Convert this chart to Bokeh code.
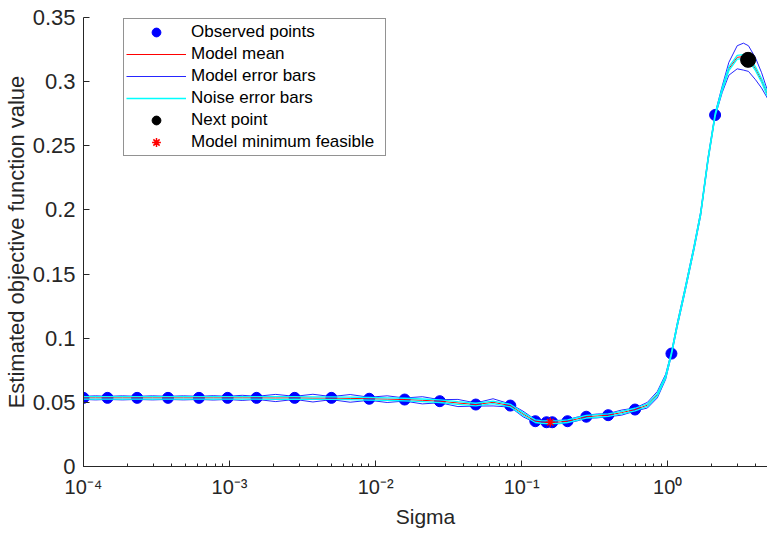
from bokeh.plotting import figure
from bokeh.models import (ColumnDataSource, Legend, LegendItem, FixedTicker,
                          LogTicker, Range1d)
from bokeh.embed import file_html
from bokeh.resources import INLINE

# ---------------- data ----------------
obs_sigma = [1.00e-4, 1.46e-4, 2.33e-4, 3.79e-4, 6.17e-4, 9.70e-4, 1.53e-3,
             2.79e-3, 4.98e-3, 9.04e-3, 1.58e-2, 2.75e-2, 4.85e-2, 8.36e-2,
             0.124, 0.148, 0.162, 0.206, 0.277, 0.391, 0.597, 1.06, 2.11]
obs_value = [0.0535, 0.0535, 0.0535, 0.0535, 0.0535, 0.0535, 0.0535,
             0.0535, 0.0535, 0.0528, 0.0522, 0.0509, 0.0483, 0.0475,
             0.0353, 0.0345, 0.0345, 0.0353, 0.0388, 0.0400, 0.0444, 0.0880, 0.2740]

next_sigma = [3.55]
next_value = [0.317]

min_sigma = [0.157]
min_value = [0.0345]

curve_sigma = [1.00e-4, 1.21e-4, 1.46e-4, 1.85e-4, 2.33e-4, 2.97e-4, 3.79e-4,
               4.83e-4, 6.17e-4, 7.73e-4, 9.70e-4, 1.22e-3, 1.53e-3, 2.07e-3,
               2.79e-3, 3.72e-3, 4.98e-3, 6.70e-3, 9.04e-3, 1.20e-2, 1.58e-2,
               2.09e-2, 2.75e-2, 3.66e-2, 4.85e-2, 6.37e-2, 8.36e-2, 0.102,
               0.124, 0.136, 0.148, 0.162, 0.183, 0.206, 0.239, 0.277, 0.329,
               0.391, 0.483, 0.597, 0.726, 0.849, 0.968, 1.06, 1.16, 1.31,
               1.51, 1.68, 1.89, 2.11, 2.36, 2.62, 2.99, 3.30, 3.57, 3.99,
               4.39, 4.82]
curve_mean = [0.0535, 0.0535, 0.0535, 0.0535, 0.0535, 0.0535, 0.0535,
              0.0535, 0.0535, 0.0535, 0.0535, 0.0535, 0.0535, 0.0534,
              0.0535, 0.0533, 0.0533, 0.0531, 0.0528, 0.0525, 0.0522,
              0.0516, 0.0509, 0.0495, 0.0483, 0.0500, 0.0475, 0.0410,
              0.0353, 0.0347, 0.0345, 0.0345, 0.0347, 0.0353, 0.0370, 0.0388, 0.0394,
              0.0400, 0.0420, 0.0444, 0.0478, 0.0560, 0.0700, 0.0880, 0.110, 0.137,
              0.170, 0.197, 0.240, 0.274, 0.294, 0.310, 0.319, 0.3195, 0.318, 0.310,
              0.301, 0.290]
model_halfwidth = [0.0012, 0.0016, 0.0012, 0.0016, 0.0012, 0.0016, 0.0012,
                   0.0016, 0.0012, 0.0017, 0.0012, 0.0020, 0.0012, 0.0028,
                   0.0012, 0.0030, 0.0012, 0.0030, 0.0012, 0.0026, 0.0012,
                   0.0028, 0.0012, 0.0028, 0.0012, 0.0028, 0.0012, 0.0022,
                   0.0012, 0.0014, 0.0012, 0.0012, 0.0013, 0.0012, 0.0015, 0.0012, 0.0015,
                   0.0012, 0.0020, 0.0012, 0.0022, 0.0025, 0.0020, 0.0012, 0.0015, 0.0015,
                   0.0015, 0.0015, 0.0014, 0.0012, 0.0025, 0.0050, 0.0090, 0.0105, 0.0100, 0.0085,
                   0.0060, 0.0030]
noise_halfwidth = [0.0010] * 50 + [0.0012, 0.0015, 0.0015, 0.0015, 0.0015, 0.0015, 0.0015, 0.0015]

y_ticks = [0, 0.05, 0.1, 0.15, 0.2, 0.25, 0.3, 0.35]
y_tick_labels = ["0", "0.05", "0.1", "0.15", "0.2", "0.25", "0.3", "0.35"]
x_ticks = [1e-4, 1e-3, 1e-2, 1e-1, 1.0]
x_tick_labels = ["10\u207b\u2074", "10\u207b\u00b3", "10\u207b\u00b2", "10\u207b\u00b9", "10\u2070"]

x_label = "Sigma"
y_label = "Estimated objective function value"
legend_labels = ["Observed points", "Model mean", "Model error bars",
                 "Noise error bars", "Next point", "Model minimum feasible"]

# ---------------- figure ----------------
FONT = "Liberation Sans"
AX = "#262626"

p = figure(width=767, height=534, x_axis_type="log",
           x_range=Range1d(1e-4, 4.82), y_range=Range1d(0, 0.35),
           output_backend="svg", toolbar_location=None,
           min_border_left=81, min_border_right=0, min_border_top=17,
           min_border_bottom=68)
p.outline_line_color = None
p.xgrid.visible = False
p.ygrid.visible = False
p.background_fill_color = "white"

upper_model = [m + h for m, h in zip(curve_mean, model_halfwidth)]
lower_model = [m - h for m, h in zip(curve_mean, model_halfwidth)]
upper_noise = [m + h for m, h in zip(curve_mean, noise_halfwidth)]
lower_noise = [m - h for m, h in zip(curve_mean, noise_halfwidth)]

src = ColumnDataSource(dict(x=curve_sigma, mean=curve_mean, um=upper_model,
                            lm=lower_model, un=upper_noise, ln=lower_noise))

r_obs = p.scatter(obs_sigma, obs_value, marker="circle", size=11,
                  fill_color="#0000FF", line_color="#0000FF")
r_um = p.line("x", "um", source=src, line_color="#0000FF", line_width=1.0, line_alpha=0.85)
r_lm = p.line("x", "lm", source=src, line_color="#0000FF", line_width=1.0, line_alpha=0.85)
r_mean = p.line("x", "mean", source=src, line_color="#FF0000", line_width=1.0)
r_un = p.line("x", "un", source=src, line_color="#00FFFF", line_width=1.3)
r_ln = p.line("x", "ln", source=src, line_color="#00FFFF", line_width=1.3)
r_next = p.scatter(next_sigma, next_value, marker="circle", size=15,
                   fill_color="black", line_color="black")
r_min = p.scatter(min_sigma, min_value, marker="asterisk", size=9,
                  line_color="#FF0000", line_width=1.5)

# axes
p.xaxis.ticker = LogTicker(num_minor_ticks=10)
p.xaxis.major_label_overrides = {t: s for t, s in zip(x_ticks, x_tick_labels)}
p.yaxis.ticker = FixedTicker(ticks=y_ticks)
p.yaxis.major_label_overrides = {t: s for t, s in zip(y_ticks, y_tick_labels)}
for ax in (p.xaxis[0], p.yaxis[0]):
    ax.axis_line_color = AX
    ax.major_tick_line_color = AX
    ax.minor_tick_line_color = AX
    ax.major_tick_in = 6
    ax.major_tick_out = 0
    ax.minor_tick_in = 3
    ax.minor_tick_out = 0
    ax.major_label_text_font = FONT
    ax.major_label_text_color = AX
    ax.axis_label_text_font = FONT
    ax.axis_label_text_font_style = "normal"
    ax.axis_label_text_color = AX
p.xaxis.major_label_text_font_size = "20px"
p.yaxis.major_label_text_font_size = "22px"
p.xaxis.axis_label_text_font_size = "21px"
p.yaxis.axis_label_text_font_size = "22px"
p.yaxis.minor_tick_line_color = None
p.xaxis.axis_label = x_label
p.yaxis.axis_label = y_label
p.xaxis.major_label_standoff = 9
p.yaxis.major_label_standoff = 8
p.xaxis.axis_label_standoff = 4
p.yaxis.axis_label_standoff = 1

legend = Legend(items=[
    LegendItem(label=legend_labels[0], renderers=[r_obs]),
    LegendItem(label=legend_labels[1], renderers=[r_mean]),
    LegendItem(label=legend_labels[2], renderers=[r_um]),
    LegendItem(label=legend_labels[3], renderers=[r_un]),
    LegendItem(label=legend_labels[4], renderers=[r_next]),
    LegendItem(label=legend_labels[5], renderers=[r_min]),
], location=(40, 310))
legend.label_text_font = FONT
legend.label_text_font_size = "17px"
legend.label_text_color = "black"
legend.padding = 2
legend.spacing = 0
legend.margin = 0
legend.label_height = 22
legend.label_width = 192
legend.glyph_height = 22
legend.glyph_width = 60
legend.label_standoff = 5
legend.border_line_color = "#262626"
legend.border_line_width = 1
legend.background_fill_alpha = 1
p.add_layout(legend)

open("out.html", "w").write(file_html(p, INLINE))
